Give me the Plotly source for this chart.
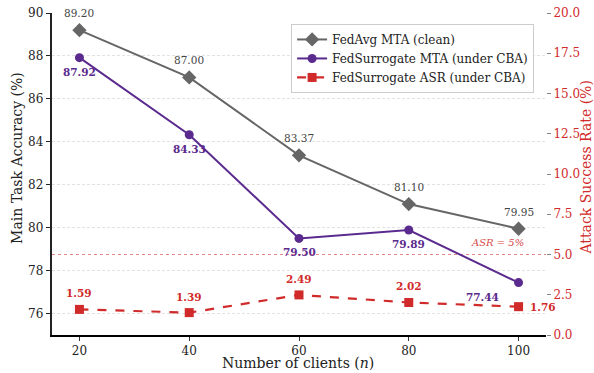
import plotly.graph_objects as go

clients = [20, 40, 60, 80, 100]
fedavg_mta = [89.20, 87.00, 83.37, 81.10, 79.95]
fedsur_mta = [87.92, 84.33, 79.50, 79.89, 77.44]
fedsur_asr = [1.59, 1.39, 2.49, 2.02, 1.76]
left_ticks = [76, 78, 80, 82, 84, 86, 88, 90]
right_ticks = [0, 2.5, 5, 7.5, 10, 12.5, 15, 17.5, 20]
asr_threshold = 5

GRAY = "#666666"
PURPLE = "#5a2a8e"
RED = "#d12a2a"
FONT = "DejaVu Serif"

fig = go.Figure()
fig.add_trace(go.Scatter(x=clients, y=fedavg_mta, mode="lines+markers", name="FedAvg MTA (clean)",
                         line=dict(color=GRAY, width=2), marker=dict(symbol="diamond", size=11, color=GRAY)))
fig.add_trace(go.Scatter(x=clients, y=fedsur_mta, mode="lines+markers", name="FedSurrogate MTA (under CBA)",
                         line=dict(color=PURPLE, width=2), marker=dict(symbol="circle", size=9, color=PURPLE)))
fig.add_trace(go.Scatter(x=clients, y=fedsur_asr, mode="lines+markers", name="FedSurrogate ASR (under CBA)",
                         yaxis="y2",
                         line=dict(color=RED, width=2.2, dash="dash"), marker=dict(symbol="square", size=9, color=RED)))

ann = []
for x, v in zip(clients, fedavg_mta):
    ann.append(dict(x=x, y=v, xref="x", yref="y", text=f"{v:.2f}", showarrow=False,
                    yshift=17, font=dict(family=FONT, size=10.5, color="#444444")))
for i, (x, v) in enumerate(zip(clients, fedsur_mta)):
    xs = -36 if i == len(clients) - 1 else 0
    ys = -14
    ann.append(dict(x=x, y=v, xref="x", yref="y", text=f"<b>{v:.2f}</b>", showarrow=False,
                    xshift=xs, yshift=ys, font=dict(family=FONT, size=10.5, color=PURPLE)))
for i, (x, v) in enumerate(zip(clients, fedsur_asr)):
    if i == len(clients) - 1:
        xs, ys = 24, 0
    else:
        xs, ys = 0, 16
    ann.append(dict(x=x, y=v, xref="x", yref="y2", text=f"<b>{v:.2f}</b>", showarrow=False,
                    xshift=xs, yshift=ys, font=dict(family=FONT, size=10.5, color=RED)))
ann.append(dict(x=0.96, y=asr_threshold, xref="paper", yref="y2", text="<i>ASR = 5%</i>", showarrow=False,
                xanchor="right", yshift=12, font=dict(family=FONT, size=10, color=RED), opacity=0.85))

# axis titles
ann.append(dict(x=0, y=0.55, xref="paper", yref="paper", text="Main Task Accuracy (%)", textangle=-90,
                showarrow=False, xanchor="center", yanchor="middle", xshift=-35,
                font=dict(family=FONT, size=14, color="#222222")))
ann.append(dict(x=1, y=0.52, xref="paper", yref="paper", text="Attack Success Rate (%)", textangle=-90,
                showarrow=False, xanchor="center", yanchor="middle", xshift=40,
                font=dict(family=FONT, size=14, color=RED)))
ann.append(dict(x=0.497, y=0, xref="paper", yref="paper", text="Number of clients (<i>n</i>)",
                showarrow=False, xanchor="center", yanchor="middle", yshift=-28,
                font=dict(family=FONT, size=14, color="#222222")))

fig.add_shape(type="line", xref="paper", yref="y2", x0=0, x1=1, y0=asr_threshold, y1=asr_threshold,
              line=dict(color=RED, width=0.8, dash="dot"), opacity=0.7, layer="below")

fig.update_layout(
    width=594, height=373,
    margin=dict(l=52, r=48, t=13, b=38),
    paper_bgcolor="white", plot_bgcolor="white",
    font=dict(family=FONT, size=12, color="#222222"),
    annotations=ann,
    showlegend=True,
    legend=dict(x=0.484, y=0.966, xanchor="left", yanchor="top",
                bgcolor="rgba(255,255,255,0.9)", bordercolor="#cccccc", borderwidth=1,
                font=dict(family=FONT, size=12, color="#222222"), tracegroupgap=0,
                itemwidth=30),
    xaxis=dict(range=[15, 105], tickvals=clients, ticktext=[str(c) for c in clients],
               showline=True, linecolor="black", linewidth=1.6, ticks="outside", ticklen=4,
               tickcolor="#333333", showgrid=False, zeroline=False, automargin=False,
               ticklabeloverflow="allow", tickfont=dict(family=FONT, size=12)),
    yaxis=dict(range=[75, 90], tickvals=left_ticks, showline=True, linecolor="#222222", linewidth=2.4,
               ticks="outside", ticklen=4, tickcolor="#222222", showgrid=True, gridcolor="#e2e2e2",
               griddash="3px,2px", gridwidth=0.8, zeroline=False, automargin=False,
               ticklabeloverflow="allow", tickfont=dict(family=FONT, size=12)),
    yaxis2=dict(range=[0, 20], tickvals=right_ticks, ticktext=[f"{t:.1f}" for t in right_ticks],
                overlaying="y", side="right", showline=False, showgrid=False, zeroline=False,
                ticks="outside", ticklen=4, tickcolor="#888888", automargin=False,
                ticklabeloverflow="allow", tickfont=dict(family=FONT, size=12, color=RED)),
)

# remove the default 8px page margin so the figure fills the window exactly
fig.write_html("out.html", config={"displayModeBar": False},
               post_script="document.body.style.margin='0px';")
